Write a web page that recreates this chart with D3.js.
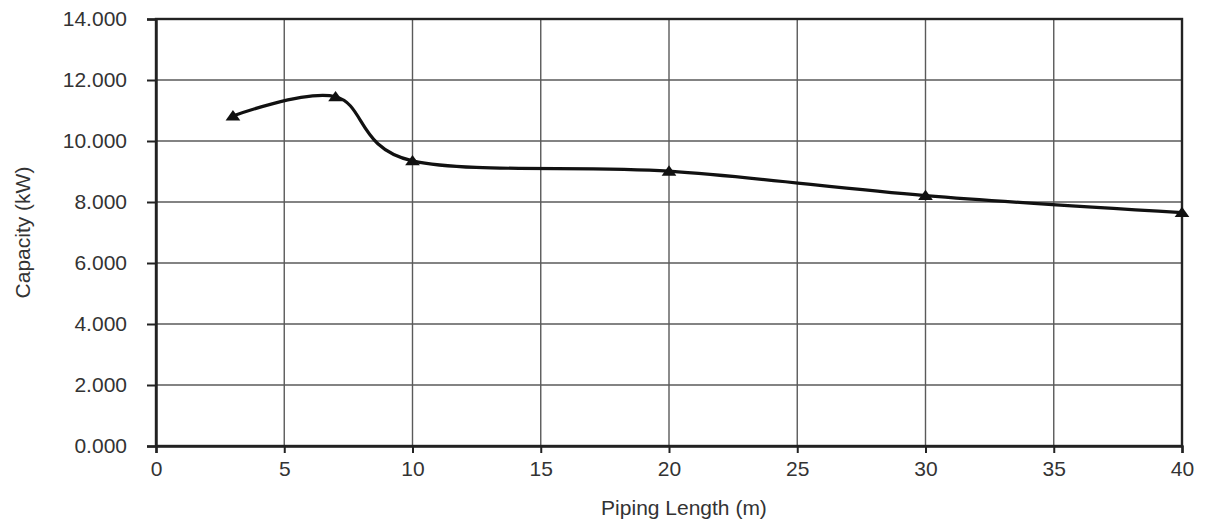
<!DOCTYPE html>
<html>
<head>
<meta charset="utf-8">
<script src="https://cdn.jsdelivr.net/npm/d3@7"></script>
<style>
  html, body { margin: 0; padding: 0; background: #fff; }
  svg { display: block; }
  text { font-family: "Liberation Sans", Arial, Helvetica, sans-serif; fill: #333; }
</style>
</head>
<body>
<svg id="chart" width="1208" height="527"></svg>
<script>
// Data
const pipingLength = [3, 7, 10, 20, 30, 40];
const capacity = [10820, 11450, 9350, 9010, 8210, 7650];
const xTicks = [0, 5, 10, 15, 20, 25, 30, 35, 40];
const yTicks = [0, 2000, 4000, 6000, 8000, 10000, 12000, 14000];
const xTitle = "Piping Length (m)";
const yTitle = "Capacity (kW)";

(function () {
const svg = d3.select("#chart");
const mLeft = 156, mRight = 1182, mTop = 19, mBottom = 446;
const fs = "21px";

const x = d3.scaleLinear().domain([0, 40]).range([mLeft, mRight]);
const y = d3.scaleLinear().domain([0, 14000]).range([mBottom, mTop]);

// Grid lines
const grid = svg.append("g");
grid.selectAll("line.v").data(xTicks).join("line")
  .attr("class", "v")
  .attr("x1", d => x(d)).attr("x2", d => x(d))
  .attr("y1", mTop).attr("y2", mBottom)
  .attr("stroke", "#5a5a5a").attr("stroke-width", 1.4);
grid.selectAll("line.h").data(yTicks).join("line")
  .attr("class", "h")
  .attr("x1", mLeft).attr("x2", mRight)
  .attr("y1", d => y(d)).attr("y2", d => y(d))
  .attr("stroke", "#5a5a5a").attr("stroke-width", 1.4);

// Frame
svg.append("rect")
  .attr("x", mLeft).attr("y", mTop)
  .attr("width", mRight - mLeft).attr("height", mBottom - mTop)
  .attr("fill", "none").attr("stroke", "#222").attr("stroke-width", 2.4);

const fmt = d => d3.format(".3f")(d / 1000);

// Axes
const xAxis = d3.axisBottom(x).tickValues(xTicks).tickSize(7).tickPadding(8).tickFormat(d3.format("d"));
const gx = svg.append("g").attr("transform", `translate(0,${mBottom})`).call(xAxis);
gx.select(".domain").attr("stroke", "#222").attr("stroke-width", 2.4);
gx.selectAll(".tick line").attr("stroke", "#222").attr("stroke-width", 2);
gx.selectAll(".tick text").style("font-size", fs).attr("fill", "#333")
  .style("font-family", "'Liberation Sans', Arial, sans-serif");

const yAxis = d3.axisLeft(y).tickValues(yTicks).tickSize(9).tickPadding(20).tickFormat(fmt);
const gy = svg.append("g").attr("transform", `translate(${mLeft},0)`).call(yAxis);
gy.select(".domain").attr("stroke", "#222").attr("stroke-width", 2.4);
gy.selectAll(".tick line").attr("stroke", "#222").attr("stroke-width", 2);
gy.selectAll(".tick text").style("font-size", fs).attr("fill", "#333")
  .style("font-family", "'Liberation Sans', Arial, sans-serif");

// Line
const pts = pipingLength.map((d, i) => [d, capacity[i]]);
const line = d3.line()
  .x(d => x(d[0])).y(d => y(d[1]))
  .curve(d3.curveCardinal.tension(0));
svg.append("path").datum(pts)
  .attr("d", line)
  .attr("fill", "none").attr("stroke", "#111").attr("stroke-width", 3.2)
  .attr("stroke-linejoin", "round");

// Markers
const tri = d3.symbol().type(d3.symbolTriangle).size(85);
svg.selectAll("path.mk").data(pts).join("path")
  .attr("class", "mk")
  .attr("d", tri)
  .attr("transform", d => `translate(${x(d[0])},${y(d[1]) + 1}) scale(1.05,0.85)`)
  .attr("fill", "#111");

// Titles
svg.append("text")
  .attr("x", 684).attr("y", 515)
  .attr("text-anchor", "middle")
  .style("font-size", fs)
  .text(xTitle);

svg.append("text")
  .attr("transform", `translate(30,${(mTop + mBottom) / 2}) rotate(-90)`)
  .attr("text-anchor", "middle")
  .style("font-size", fs)
  .text(yTitle);
})();
</script>
</body>
</html>
